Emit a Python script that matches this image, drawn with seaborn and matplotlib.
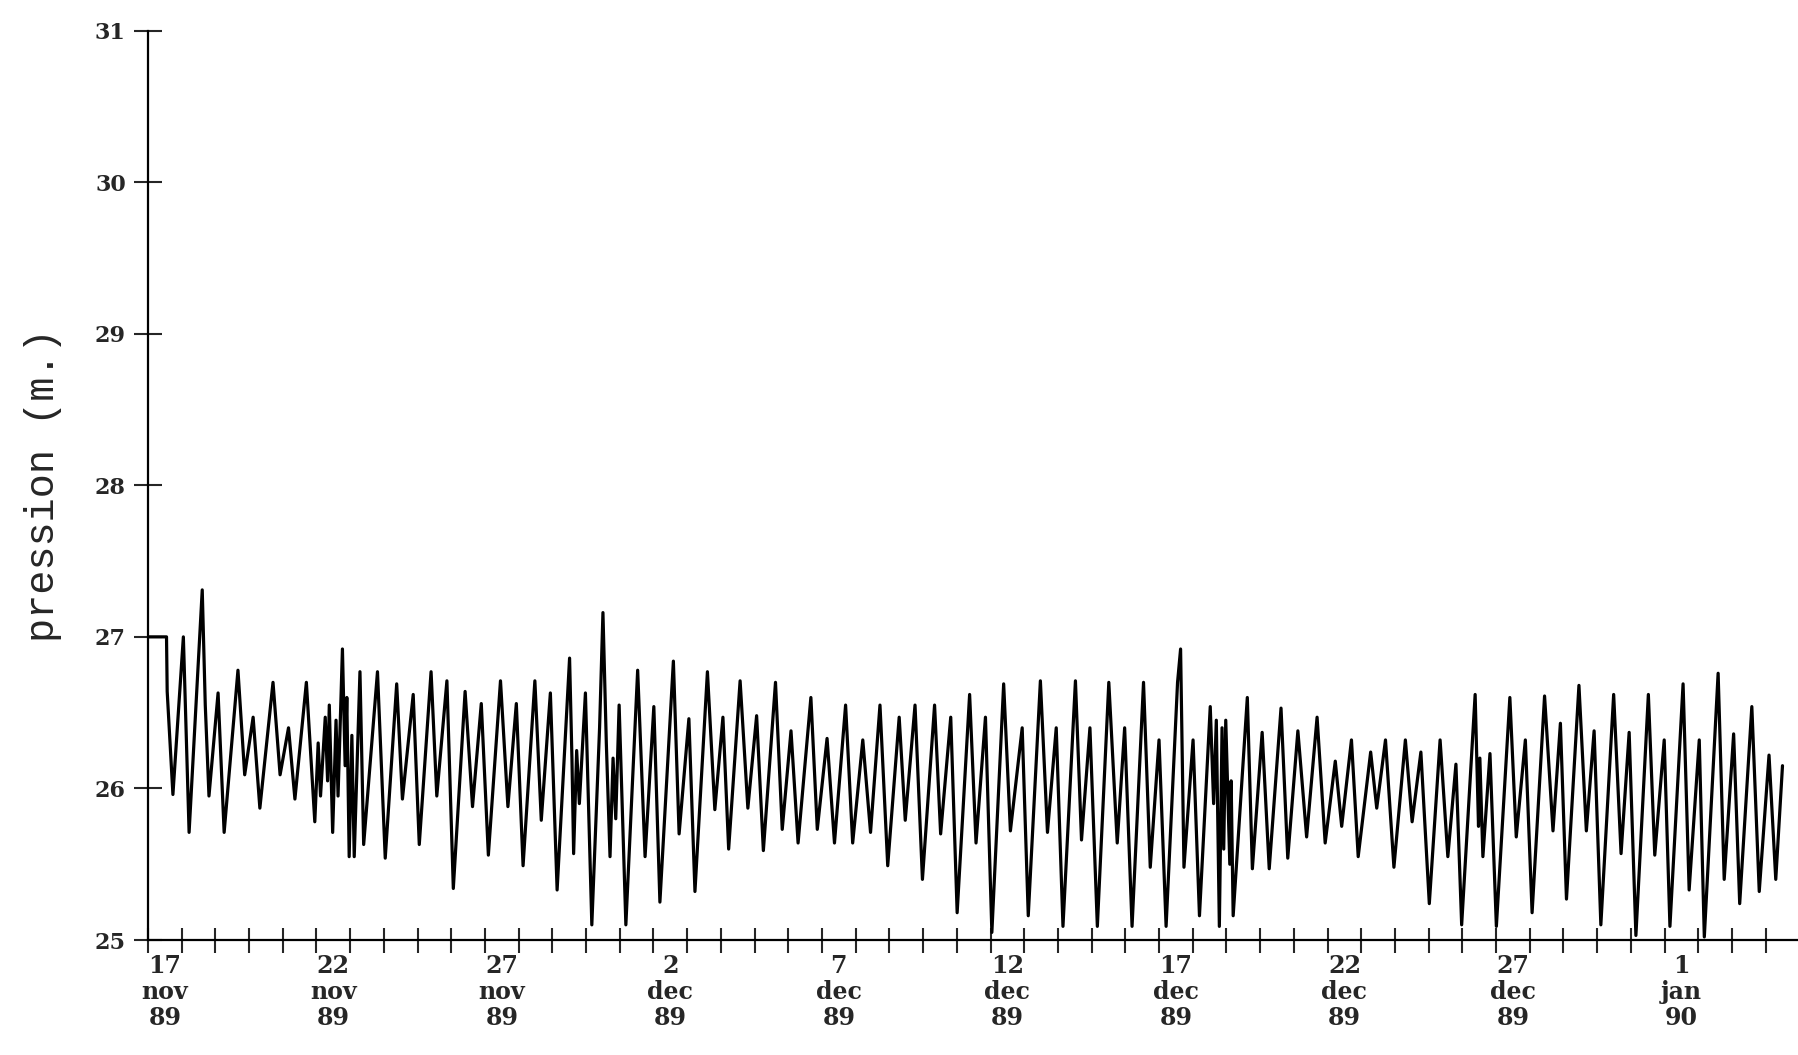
import pandas as pd
import seaborn as sns
import matplotlib.pyplot as plt

# --- Data (days since 17 nov 89 00:00, pressure in m) ---
jours = [
    0.00, 0.55, 0.57, 0.74, 1.05, 1.22, 1.61, 1.70, 1.81, 2.08, 2.26, 2.67, 2.87,
    3.12, 3.32, 3.71, 3.92, 4.17, 4.36, 4.70, 4.95, 5.05, 5.12, 5.26, 5.33, 5.38,
    5.48, 5.58, 5.64, 5.77, 5.85, 5.90, 5.97, 6.05, 6.12, 6.29, 6.40, 6.81, 7.04,
    7.38, 7.55, 7.87, 8.05, 8.40, 8.57, 8.87, 9.06, 9.41, 9.63, 9.89, 10.10, 10.46,
    10.68, 10.93, 11.13, 11.48, 11.67, 11.94, 12.14, 12.51, 12.58, 12.63, 12.72,
    12.80, 12.98, 13.17, 13.40, 13.50, 13.60, 13.71, 13.80, 13.88, 13.98, 14.18,
    14.53, 14.75, 15.01, 15.19, 15.59, 15.76, 16.05, 16.23, 16.60, 16.82, 17.06,
    17.23, 17.57, 17.80, 18.06, 18.26, 18.62, 18.82, 19.08, 19.29, 19.67, 19.86,
    20.15, 20.37, 20.70, 20.91, 21.21, 21.44, 21.72, 21.95, 22.29, 22.47, 22.76,
    22.98, 23.34, 23.52, 23.82, 24.01, 24.38, 24.57, 24.85, 25.04, 25.39, 25.59,
    25.94, 26.12, 26.48, 26.69, 26.95, 27.15, 27.52, 27.70, 27.95, 28.17, 28.51,
    28.76, 28.98, 29.20, 29.54, 29.74, 30.00, 30.21, 30.55, 30.64, 30.74, 31.01,
    31.20, 31.52, 31.62, 31.70, 31.79, 31.87, 31.92, 31.98, 32.10, 32.14, 32.20,
    32.62, 32.77, 33.06, 33.27, 33.62, 33.82, 34.12, 34.38, 34.69, 34.93, 35.23,
    35.42, 35.71, 35.91, 36.28, 36.46, 36.72, 36.97, 37.31, 37.51, 37.77, 38.02,
    38.34, 38.57, 38.81, 38.98, 39.38, 39.48, 39.52, 39.61, 39.82, 40.01, 40.41,
    40.60, 40.87, 41.07, 41.44, 41.69, 41.91, 42.09, 42.46, 42.68, 42.91, 43.11,
    43.49, 43.71, 43.95, 44.15, 44.52, 44.71, 44.99, 45.16, 45.55, 45.73, 46.03,
    46.18, 46.59, 46.77, 47.05, 47.23, 47.59, 47.81, 48.10, 48.30, 48.50,
]
pression = [
    27.00, 27.00, 26.64, 25.96, 27.00, 25.71, 27.31, 26.55, 25.95, 26.63, 25.71, 26.78, 26.09,
    26.47, 25.87, 26.70, 26.09, 26.40, 25.93, 26.70, 25.78, 26.30, 25.95, 26.47, 26.05, 26.55,
    25.71, 26.45, 25.95, 26.92, 26.15, 26.60, 25.55, 26.35, 25.55, 26.77, 25.63, 26.77, 25.54,
    26.69, 25.93, 26.62, 25.63, 26.77, 25.95, 26.71, 25.34, 26.64, 25.88, 26.56, 25.56, 26.71,
    25.88, 26.56, 25.49, 26.71, 25.79, 26.63, 25.33, 26.86, 26.20, 25.57, 26.25,
    25.90, 26.63, 25.10, 26.40, 27.16, 26.30, 25.55, 26.20, 25.80, 26.55, 25.10,
    26.78, 25.55, 26.54, 25.25, 26.84, 25.70, 26.46, 25.32, 26.77, 25.86, 26.47,
    25.60, 26.71, 25.87, 26.48, 25.59, 26.70, 25.73, 26.38, 25.64, 26.60, 25.73,
    26.33, 25.64, 26.55, 25.64, 26.32, 25.71, 26.55, 25.49, 26.47, 25.79, 26.55,
    25.40, 26.55, 25.70, 26.47, 25.18, 26.62, 25.64, 26.47, 25.05, 26.69, 25.72,
    26.40, 25.16, 26.71, 25.71, 26.40, 25.09, 26.71, 25.66, 26.40, 25.09, 26.70,
    25.64, 26.40, 25.09, 26.70, 25.48, 26.32, 25.09, 26.70, 26.92, 25.48, 26.32,
    25.16, 26.54, 25.90, 26.45, 25.09, 26.40, 25.60, 26.45, 25.50, 26.05, 25.16,
    26.60, 25.47, 26.37, 25.47, 26.53, 25.54, 26.38, 25.68, 26.47, 25.64, 26.18,
    25.75, 26.32, 25.55, 26.24, 25.87, 26.32, 25.48, 26.32, 25.78, 26.24, 25.24,
    26.32, 25.55, 26.16, 25.10, 26.62, 25.75, 26.20, 25.55, 26.23, 25.09, 26.60,
    25.68, 26.32, 25.18, 26.61, 25.72, 26.43, 25.27, 26.68, 25.72, 26.38, 25.10,
    26.62, 25.57, 26.37, 25.03, 26.62, 25.56, 26.32, 25.09, 26.69, 25.33, 26.32,
    25.02, 26.76, 25.40, 26.36, 25.24, 26.54, 25.32, 26.22, 25.40, 26.15,
]

# tick labels every 5 days, centred on the day
label_days = [0, 5, 10, 15, 20, 25, 30, 35, 40, 45]
label_texts = [
    "17\nnov\n89", "22\nnov\n89", "27\nnov\n89", "2\ndec\n89", "7\ndec\n89",
    "12\ndec\n89", "17\ndec\n89", "22\ndec\n89", "27\ndec\n89", "1\njan\n90",
]
y_ticks = [25, 26, 27, 28, 29, 30, 31]

df = pd.DataFrame({"jour": jours, "pression": pression})

sns.set_style("ticks")
fig = plt.figure(figsize=(17.98, 10.55), dpi=100)
ax = fig.add_axes([0.0823, 0.109, 0.9177, 0.862])

sns.lineplot(data=df, x="jour", y="pression", sort=False, estimator=None,
             color="black", linewidth=2.3, ax=ax)
ax.lines[0].set_solid_joinstyle("round")

ax.set_xlim(0, 48.96)
ax.set_ylim(25, 31)
for side in ["top", "right"]:
    ax.spines[side].set_visible(False)
for side in ["left", "bottom"]:
    ax.spines[side].set_linewidth(1.6)
    ax.spines[side].set_color("black")

# daily ticks (no label), labels on minor ticks at mid-day
ax.set_xticks(range(0, 49))
ax.set_xticklabels([])
ax.set_xticks([d + 0.5 for d in label_days], minor=True)
ax.set_xticklabels(label_texts, minor=True, fontfamily="DejaVu Serif",
                   fontweight="bold", fontsize=17, linespacing=1.1)
ax.tick_params(axis="x", which="major", direction="inout", length=18, width=1.5)
ax.tick_params(axis="x", which="minor", length=0, pad=10)

ax.set_yticks(y_ticks)
ax.set_yticklabels([str(v) for v in y_ticks], fontfamily="DejaVu Serif",
                   fontweight="bold", fontsize=16)
ax.tick_params(axis="y", direction="inout", length=20, width=1.5, pad=6)

ax.set_xlabel("")
ax.set_ylabel("pression (m.)", fontfamily="Liberation Mono", fontsize=29)
ax.yaxis.set_label_coords(-0.052, 0.5)

plt.savefig("out.png", dpi=100, facecolor="white")
